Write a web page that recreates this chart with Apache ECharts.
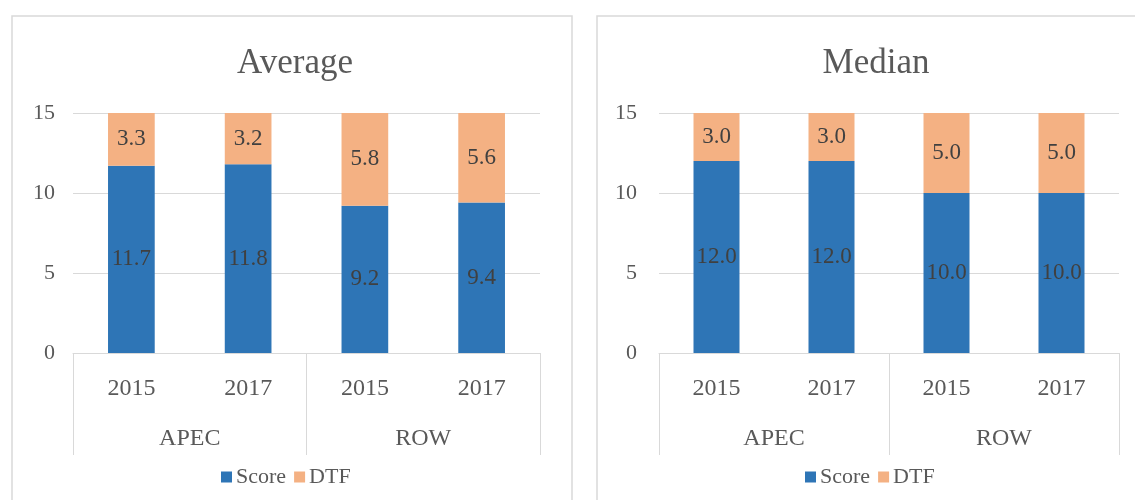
<!DOCTYPE html>
<html>
<head>
<meta charset="utf-8">
<style>
  html, body { margin: 0; padding: 0; background: #fff; }
  #chart { width: 1135px; height: 500px; }
</style>
<script src="https://cdn.jsdelivr.net/npm/echarts@6/dist/echarts.min.js"></script>
</head>
<body>
<div id="chart"></div>
<script>
const years = ['2015', '2017', '2015', '2017']
const groups = ['APEC', 'ROW']
const averageScore = [11.7, 11.8, 9.2, 9.4]
const averageDtf = [3.3, 3.2, 5.8, 5.6]
const medianScore = [12.0, 12.0, 10.0, 10.0]
const medianDtf = [3.0, 3.0, 5.0, 5.0]

const serif = '"Liberation Serif", "Times New Roman", serif'
const textColor = '#595959'
const lineColor = '#d9d9d9'
const scoreColor = '#2e75b6'
const dtfColor = '#f4b183'

function yearAxis(gridIndex) {
  return {
    type: 'category',
    gridIndex,
    data: years,
    position: 'bottom',
    axisLine: { lineStyle: { color: lineColor, width: 1 } },
    axisTick: { show: false },
    axisLabel: { color: textColor, fontFamily: serif, fontSize: 24, margin: 24 },
  }
}

function groupAxis(gridIndex) {
  return {
    type: 'category',
    gridIndex,
    data: groups,
    position: 'bottom',
    axisLine: { show: false },
    axisTick: { show: true, length: 102, lineStyle: { color: lineColor } },
    axisLabel: { color: textColor, fontFamily: serif, fontSize: 24, margin: 74 },
  }
}

function valueAxis(gridIndex, margin) {
  return {
    type: 'value',
    gridIndex,
    min: 0,
    max: 15,
    interval: 5,
    axisLine: { show: false },
    axisTick: { show: false },
    axisLabel: { color: textColor, fontFamily: serif, fontSize: 22, margin },
    splitLine: { lineStyle: { color: lineColor, width: 1 } },
  }
}

function barSeries(name, data, color, axisIndex) {
  return {
    name,
    type: 'bar',
    stack: 'total' + axisIndex,
    xAxisIndex: axisIndex * 2,
    yAxisIndex: axisIndex,
    data,
    barWidth: '40%',
    itemStyle: { color },
    label: {
      show: true,
      position: 'inside',
      color: '#404040',
      fontFamily: serif,
      fontSize: 23,
      formatter: (p) => p.value.toFixed(1),
    },
  }
}

function legend(left) {
  return {
    top: 461,
    left,
    data: ['Score', 'DTF'],
    icon: 'rect',
    itemWidth: 11,
    itemHeight: 11,
    itemGap: 8,
    selectedMode: false,
    textStyle: { color: textColor, fontFamily: serif, fontSize: 22, padding: [0, 0, 0, -1] },
  }
}

const chart = echarts.init(document.getElementById('chart'))
chart.setOption({
  animation: false,
  graphic: [
    { type: 'rect', shape: { x: 12, y: 16, width: 560, height: 500 }, style: { fill: 'none', stroke: lineColor, lineWidth: 1.5 } },
    { type: 'rect', shape: { x: 597, y: 16, width: 560, height: 500 }, style: { fill: 'none', stroke: lineColor, lineWidth: 1.5 } },
  ],
  title: [
    { text: 'Average', left: 290, textAlign: 'center', top: 41, textStyle: { color: textColor, fontFamily: serif, fontSize: 35, fontWeight: 'normal' } },
    { text: 'Median', left: 871, textAlign: 'center', top: 41, textStyle: { color: textColor, fontFamily: serif, fontSize: 35, fontWeight: 'normal' } },
  ],
  legend: [legend(216), legend(800)],
  grid: [
    { left: 73, top: 113, width: 467, height: 240 },
    { left: 659, top: 113, width: 460, height: 240 },
  ],
  xAxis: [yearAxis(0), groupAxis(0), yearAxis(1), groupAxis(1)],
  yAxis: [valueAxis(0, 18), valueAxis(1, 22)],
  series: [
    barSeries('Score', averageScore, scoreColor, 0),
    barSeries('DTF', averageDtf, dtfColor, 0),
    barSeries('Score', medianScore, scoreColor, 1),
    barSeries('DTF', medianDtf, dtfColor, 1),
  ],
})
</script>
</body>
</html>
